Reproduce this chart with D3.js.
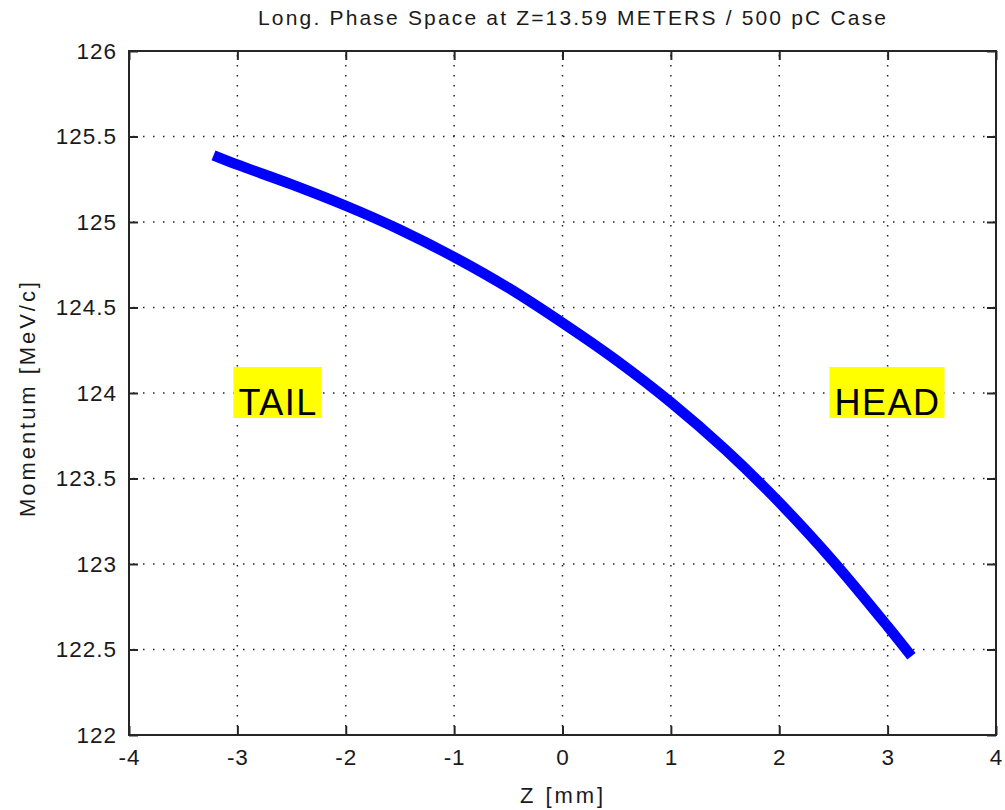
<!DOCTYPE html>
<html>
<head>
<meta charset="utf-8">
<script src="https://cdn.jsdelivr.net/npm/d3@7"></script>
<style>
  body { margin: 0; background: #fff; }
  text { font-family: "Liberation Sans", Arial, sans-serif; fill: #1a1a1a; }
</style>
</head>
<body>
<svg id="chart" width="1005" height="810"></svg>
<script>
// ---- data ----
const zValues = [-3.22, -3.0, -2.5, -2.0, -1.5, -1.0, -0.5, 0.0, 0.5, 1.0, 1.5, 2.0, 2.5, 3.0, 3.22];
const momentumValues = [125.39, 125.335, 125.22, 125.095, 124.955, 124.795, 124.615, 124.41, 124.19, 123.945, 123.67, 123.36, 123.015, 122.635, 122.46];
const xTicks = [-4, -3, -2, -1, 0, 1, 2, 3, 4];
const yTicks = [122, 122.5, 123, 123.5, 124, 124.5, 125, 125.5, 126];
const labels = [
  { text: "TAIL", z: -3, p: 124 },
  { text: "HEAD", z: 2.5, p: 124 }
];
const titleText = "Long. Phase Space at Z=13.59 METERS / 500 pC Case";
const xLabel = "Z [mm]";
const yLabel = "Momentum [MeV/c]";

// ---- layout ----
const L = 129, R = 996, T = 51, B = 735;
const svg = d3.select("#chart");
const x = d3.scaleLinear().domain([-4, 4]).range([L, R]);
const y = d3.scaleLinear().domain([122, 126]).range([B, T]);

svg.append("rect").attr("x", 0).attr("y", 0).attr("width", 1005).attr("height", 810).attr("fill", "#fff");

// grid
const grid = svg.append("g");
xTicks.slice(1, -1).forEach(t => {
  grid.append("line").attr("x1", x(t)).attr("x2", x(t)).attr("y1", T).attr("y2", B)
    .attr("stroke", "#222").attr("stroke-width", 1.5).attr("stroke-dasharray", "1.5 8.5")
    .attr("stroke-dashoffset", -4);
});
yTicks.slice(1, -1).forEach(t => {
  grid.append("line").attr("x1", L).attr("x2", R).attr("y1", y(t)).attr("y2", y(t))
    .attr("stroke", "#222").attr("stroke-width", 1.5).attr("stroke-dasharray", "1.5 8.5")
    .attr("stroke-dashoffset", -4);
});

// curve
const pts = zValues.map((z, i) => [z, momentumValues[i]]);
const line = d3.line().x(d => x(d[0])).y(d => y(d[1])).curve(d3.curveCatmullRom.alpha(0.5));
svg.append("path").attr("d", line(pts)).attr("fill", "none")
  .attr("stroke", "#0000ff").attr("stroke-width", 10.5).attr("stroke-linecap", "butt");

// text labels with yellow background
labels.forEach(l => {
  const g = svg.append("g");
  const t = g.append("text").attr("x", x(l.z) + 1).attr("y", y(l.p) + 22)
    .attr("font-size", 36).attr("letter-spacing", 1.5).text(l.text).style("fill", "#000");
  const bb = t.node().getBBox();
  g.insert("rect", "text").attr("x", x(l.z) - 4).attr("y", y(l.p) - 26)
    .attr("width", bb.width + 9).attr("height", 51).attr("fill", "#ffff00");
});

// axes box
const axisColor = "#262626";
svg.append("rect").attr("x", L).attr("y", T).attr("width", R - L).attr("height", B - T)
  .attr("fill", "none").attr("stroke", axisColor).attr("stroke-width", 2);

// ticks (inside, all four sides) via d3 axes
const tickLen = 9;
const axB = svg.append("g").attr("transform", `translate(0,${B})`)
  .call(d3.axisBottom(x).tickValues(xTicks).tickSize(-tickLen).tickPadding(14).tickFormat(d3.format("d")));
const axT = svg.append("g").attr("transform", `translate(0,${T})`)
  .call(d3.axisTop(x).tickValues(xTicks).tickSize(-tickLen).tickFormat(""));
const axL = svg.append("g").attr("transform", `translate(${L},0)`)
  .call(d3.axisLeft(y).tickValues(yTicks).tickSize(-tickLen).tickPadding(12).tickFormat(d => String(d)));
const axR = svg.append("g").attr("transform", `translate(${R},0)`)
  .call(d3.axisRight(y).tickValues(yTicks).tickSize(-tickLen).tickFormat(""));
[axB, axT, axL, axR].forEach(a => {
  a.select(".domain").remove();
  a.selectAll(".tick line").attr("stroke", axisColor).attr("stroke-width", 2);
  a.selectAll(".tick text").attr("font-size", 22.5).attr("letter-spacing", 1)
    .attr("font-family", "Liberation Sans, Arial, sans-serif").attr("fill", "#1a1a1a");
});
axB.selectAll(".tick text").text(d => (d < 0 ? "-" + Math.abs(d) : String(d)));

// title
svg.append("text").attr("x", 258).attr("y", 25).attr("font-size", 21)
  .attr("textLength", 628).attr("lengthAdjust", "spacing").text(titleText);
// x label
svg.append("text").attr("x", 520).attr("y", 803).attr("font-size", 22)
  .attr("textLength", 83).attr("lengthAdjust", "spacing").text(xLabel);
// y label
svg.append("text").attr("transform", "translate(35,517) rotate(-90)").attr("font-size", 22)
  .attr("textLength", 235).attr("lengthAdjust", "spacing").text(yLabel);
</script>
</body>
</html>
